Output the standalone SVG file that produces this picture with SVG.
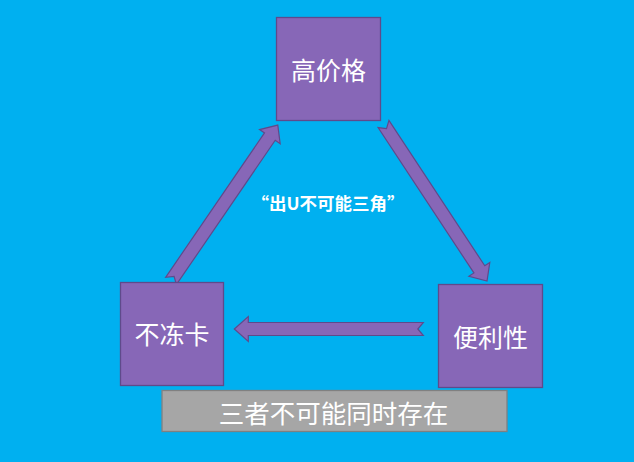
<svg xmlns="http://www.w3.org/2000/svg" width="634" height="462" viewBox="0 0 634 462">
  <defs>
    <style>
      .box { fill: #8767b7; stroke: #5f4a8b; stroke-width: 1.3; }
      .arrow { fill: #8767b7; stroke: #5f4a8b; stroke-width: 1.2; stroke-linejoin: miter; }
      .lbl { font-family: "Noto Sans CJK SC", "Liberation Sans", sans-serif; fill: #ffffff; text-anchor: middle; dominant-baseline: central; }
      .node-lbl { font-size: 25px; }
      .bar { fill: #a6a6a6; stroke: #808080; stroke-width: 1.3; }
    </style>
    <polygon id="arr" points="0,-6.5 175,-6.5 175,-12.5 189,0 175,12.5 175,6.5 0,6.5 5.5,0"/>
  </defs>
  <rect x="0" y="0" width="634" height="462" fill="#00b0f0"/>

  <g id="connectors">
    <use href="#arr" class="arrow" transform="translate(171,281) rotate(-55.6)"/>
    <use href="#arr" class="arrow" transform="translate(383.5,124) rotate(56.6) scale(0.995,1)"/>
    <use href="#arr" class="arrow" transform="translate(423.3,329) rotate(180)"/>
  </g>

  <g id="node-gaojiage">
    <rect class="box" x="276.5" y="17.5" width="104" height="103"/>
    <text class="lbl node-lbl" x="328.5" y="69">高价格</text>
  </g>
  <g id="node-budongka">
    <rect class="box" x="120.5" y="282.5" width="103" height="103"/>
    <text class="lbl node-lbl" x="172" y="333">不冻卡</text>
  </g>
  <g id="node-bianlixing">
    <rect class="box" x="438.5" y="284.5" width="104" height="103"/>
    <text class="lbl node-lbl" x="490.5" y="336">便利性</text>
  </g>

  <g id="title-label">
    <text class="lbl" x="328" y="202" font-size="17.5" font-weight="bold">“出U不可能三角”</text>
  </g>

  <g id="bar">
    <rect class="bar" x="162" y="390.5" width="345" height="41"/>
    <text class="lbl" x="333.5" y="411" font-size="25.5">三者不可能同时存在</text>
  </g>
</svg>
